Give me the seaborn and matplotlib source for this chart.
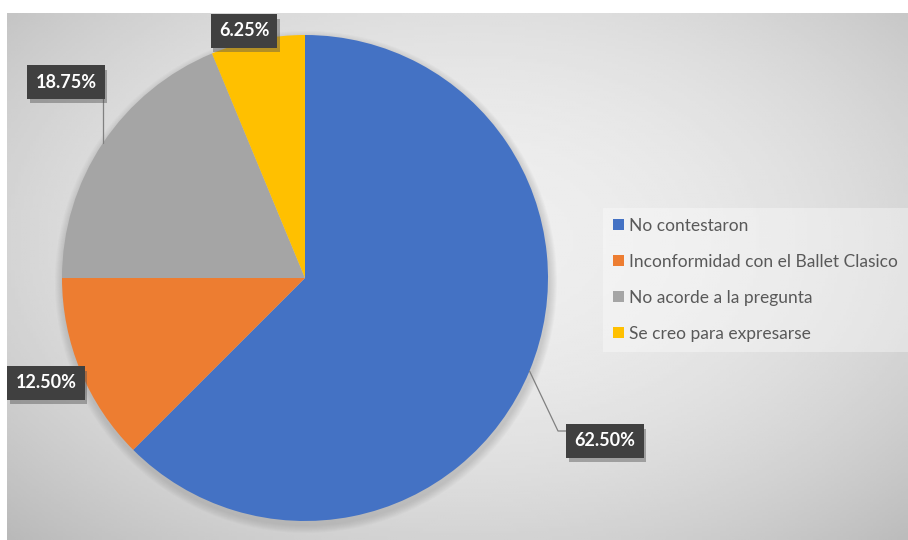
import numpy as np
import matplotlib.pyplot as plt
import seaborn as sns
from matplotlib.patches import Circle
from matplotlib import patheffects

# datos del grafico
categorias = ["No contestaron", "Inconformidad con el Ballet Clasico",
              "No acorde a la pregunta", "Se creo para expresarse"]
porcentajes = [62.50, 12.50, 18.75, 6.25]
etiquetas = ["62.50%", "12.50%", "18.75%", "6.25%"]
colores = ["#4472C4", "#ED7D31", "#A5A5A5", "#FFC000"]

sns.set_style("white")
plt.rcParams['font.family'] = ['Lato', 'DejaVu Sans']

W, H = 908, 540
fig = plt.figure(figsize=(W / 100, H / 100), dpi=100)
ax = fig.add_axes([0, 0, 1, 1])

# fondo con degradado radial
x0, x1, y0, y1 = 7, W, 0, H - 13
xx, yy = np.meshgrid(np.linspace(x0, x1, 300), np.linspace(y0, y1, 200))
r = np.sqrt(((xx - 470) / 520) ** 2 + ((yy - 300) / 330) ** 2)
fondo = 0.935 - 0.13 * r ** 2
ax.imshow(fondo, extent=(x0, x1, y0, y1), origin='lower', cmap='gray',
          vmin=0, vmax=1, zorder=0, aspect='auto')

cx, cy, R = 305, H - 278, 243

# sombra suave del pastel
for k in range(8):
    ax.add_patch(Circle((cx + 1, cy - 4), R + 8 - k, color='#707070', alpha=0.035, lw=0, zorder=1))

wedges, _ = ax.pie(porcentajes, colors=colores, startangle=90, counterclock=False,
                   center=(cx, cy), radius=R, frame=True,
                   wedgeprops=dict(linewidth=0, zorder=2))
ax.set_xlim(0, W)
ax.set_ylim(0, H)
ax.set_aspect('equal')
ax.axis('off')

# posiciones de las cajas de etiquetas (centros)
pos_etiquetas = [(605, H - 441), (46, H - 383), (66, H - 82), (244, H - 31)]

def borde(w):
    ang = np.deg2rad((w.theta1 + w.theta2) / 2)
    return cx + R * np.cos(ang), cy + R * np.sin(ang)

# lineas guia
bx, by = borde(wedges[2])
ax.plot([bx, bx], [by, pos_etiquetas[2][1] - 15], color='#808080', lw=0.9, zorder=3)
bx, by = borde(wedges[0])
px, py = pos_etiquetas[0]
ax.plot([bx, px - 47, px - 38], [by, py + 10, py + 10], color='#808080', lw=0.9, zorder=3)

for et, (px, py) in zip(etiquetas, pos_etiquetas):
    t = ax.text(px, py, et, ha='center', va='center', fontsize=13, fontweight='bold',
                color='white', zorder=5,
                bbox=dict(boxstyle='square,pad=0.45', fc='#404040', ec='none'))
    t.get_bbox_patch().set_path_effects([
        patheffects.SimplePatchShadow(offset=(2, -3), shadow_rgbFace='#555555', alpha=0.45),
        patheffects.Normal()])

leg = ax.legend(wedges, categorias, loc='center left',
                bbox_to_anchor=(603 / W, (H - 280) / H), frameon=True,
                fontsize=12.5, labelcolor='#595959', handlelength=0.6,
                handleheight=0.6, handletextpad=0.3, labelspacing=1.15,
                borderpad=0.6, borderaxespad=0, fancybox=False)
leg.get_frame().set_facecolor('white')
leg.get_frame().set_alpha(0.35)
leg.get_frame().set_edgecolor('none')

fig.savefig('out.png', dpi=100, facecolor='white')
